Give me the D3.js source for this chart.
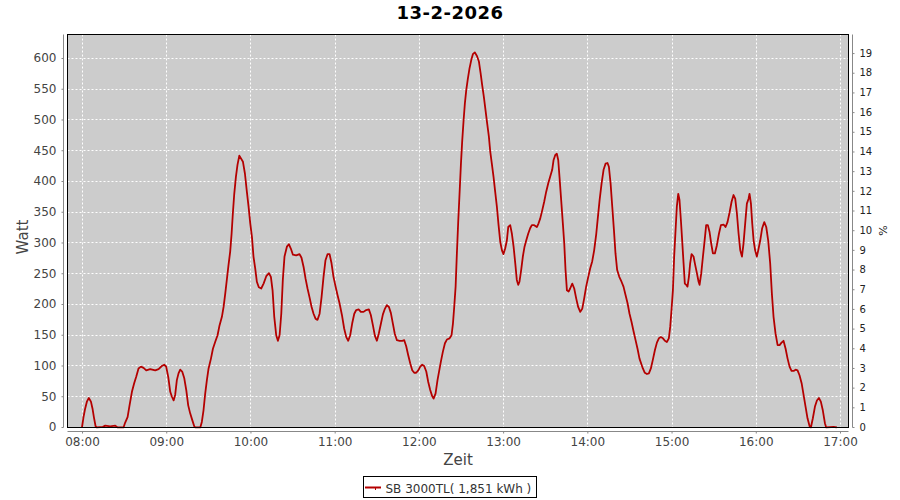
<!DOCTYPE html>
<html><head><meta charset="utf-8">
<script src="https://cdn.jsdelivr.net/npm/d3@7"></script>
<style>body{margin:0;background:#fff}svg{display:block}text{font-family:"DejaVu Sans",sans-serif}</style>
</head><body><svg id="c" width="900" height="500"></svg>
<script>
const chartTitle = "13-2-2026";
const seriesName = "SB 3000TL( 1,851 kWh )";
const xTitle = "Zeit", yTitle = "Watt", y2Title = "%";
// minutes since midnight
const minutes = [
479.6,480.7,481.9,483.1,484.5,486.0,487.1,488.1,489.3,490.2,494.5,496.2,499.7,503.3,505.0,509.2,510.4,512.1,513.5,515.2,
516.8,518.3,519.9,521.6,523.5,525.4,528.2,531.8,534.2,536.5,538.2,539.6,541.1,542.5,543.7,544.9,546.0,547.2,548.4,549.6,
551.0,552.5,553.9,555.3,556.7,558.2,559.6,560.3,563.9,565.0,566.2,567.4,568.6,569.8,571.5,572.9,574.5,576.2,577.6,579.3,
580.5,581.7,582.9,584.0,585.2,586.2,587.1,588.1,589.3,590.4,591.7,
594.3,595.7,597.1,598.3,599.5,600.7,601.8,603.0,604.2,605.6,607.3,609.0,610.9,612.8,614.2,615.4,616.6,618.0,619.2,620.4,
621.6,622.7,623.9,625.6,627.0,628.4,629.9,632.2,634.6,636.0,637.5,638.9,640.3,641.7,643.2,644.6,646.0,647.4,648.9,650.3,
651.7,653.1,654.6,656.0,657.4,658.8,660.3,661.7,663.1,664.8,666.4,667.9,669.3,670.7,672.1,673.6,675.0,676.7,678.3,680.2,
682.1,684.0,685.4,686.9,688.3,689.7,691.1,692.6,694.0,695.4,696.8,698.3,699.7,701.1,702.5,704.0,705.9,707.8,709.2,710.6,
712.0,713.5,714.9,716.3,717.7,719.2,720.6,722.0,723.4,724.9,726.3,727.7,729.1,730.1,731.5,732.9,
735.3,736.7,738.2,739.6,741.5,742.9,743.9,744.8,745.8,746.7,747.7,748.6,749.6,750.5,751.5,752.4,753.4,754.5,755.7,756.9,
758.1,759.5,761.0,762.4,763.6,764.7,765.9,767.1,768.3,769.5,770.5,771.6,772.8,774.0,775.2,776.4,777.6,778.8,779.9,781.1,
782.3,783.3,784.7,785.9,787.1,788.3,789.4,790.4,791.3,792.5,793.7,794.9,796.1,797.5,798.9,800.1,801.8,803.7,804.9,806.1,
807.5,808.9,810.3,811.8,813.2,814.6,815.6,816.8,817.9,818.9,819.8,821.0,822.2,823.2,824.1,825.1,826.3,827.4,828.9,830.3,
831.7,833.1,834.6,836.0,837.4,838.8,840.3,841.7,843.1,844.5,846.0,847.2,848.4,849.8,851.2,852.6,854.0,855.0,856.2,857.4,
858.6,859.7,860.9,862.4,864.0,865.4,866.9,868.3,869.7,871.1,872.6,874.0,875.4,876.8,
879.2,880.6,882.1,883.5,884.9,886.3,887.8,889.2,890.6,892.0,893.5,894.9,896.3,897.7,898.7,899.6,900.6,901.5,902.5,903.4,
904.4,905.3,906.3,907.2,908.2,909.1,910.1,911.0,912.0,912.9,913.9,915.3,916.5,917.7,918.9,919.6,920.8,922.0,923.2,924.3,
925.5,926.7,927.9,929.1,930.5,931.9,933.4,934.8,936.7,938.1,939.5,941.0,942.4,943.8,945.0,946.2,947.4,948.6,949.8,950.9,
952.1,953.3,954.5,955.2,956.2,957.1,958.1,959.2,960.4,961.4,962.8,964.2,965.7,967.1,968.5,969.9,971.1,972.3,973.7,975.2,
976.6,978.0,979.4,980.9,982.3,983.7,985.1,986.6,988.0,989.4,990.8,992.3,993.7,995.1,996.5,998.0,998.9,1000.3,1001.8,1003.2,
1004.6,1006.0,1007.4,1008.9,1009.8,1015.1,1017.4
];
const watts = [
0,17,31,42,48,42,31,17,2,0,1,3,2,3,0,0,8,17,36,58,
72,83,96,99,97,93,95,93,95,100,102,99,82,58,50,44,53,77,88,94,
91,80,61,36,23,12,2,0,0,9,28,55,77,96,112,128,139,150,166,180,
196,218,242,264,286,315,348,380,408,427,442,
432,413,383,359,332,310,278,259,237,228,226,234,246,251,245,223,180,150,141,150,
185,240,278,294,298,291,281,280,282,276,261,242,226,212,196,185,177,175,185,212,
245,272,282,282,267,245,229,215,202,183,161,147,141,150,169,185,191,192,188,188,
191,192,183,166,149,141,153,169,184,193,199,196,186,169,152,142,141,141,142,132,
118,104,93,89,89,93,99,102,100,91,74,61,51,47,55,77,
107,123,137,143,145,150,169,196,229,283,337,380,429,466,500,527,549,567,584,597,
607,610,604,595,576,557,538,516,494,473,448,429,408,383,359,329,302,288,282,291,
304,326,329,315,294,267,240,232,237,256,278,294,304,315,324,329,329,326,332,340,
353,367,383,397,408,419,435,443,445,435,408,370,332,299,256,223,221,226,234,226,
210,196,188,193,210,229,245,259,270,288,315,343,370,397,419,429,430,424,397,359,
321,283,256,245,237,229,215,202,185,172,156,142,128,112,
96,89,87,88,96,110,126,138,145,147,145,141,139,145,164,191,223,278,321,359,
380,370,337,304,267,234,232,229,245,267,282,278,264,251,237,232,251,278,304,329,
329,318,299,283,283,296,315,329,330,326,334,350,367,378,372,348,315,288,278,299,
332,364,372,380,364,332,304,288,278,288,304,324,334,326,304,267,218,180,153,134,
134,138,141,128,112,99,92,92,94,93,85,72,53,34,15,2,0,15,34,44,
48,42,28,7,0,1,0
];
const hourTicks = ["08:00","09:00","10:00","11:00","12:00","13:00","14:00","15:00","16:00","17:00"];
const wattTicks = [0,50,100,150,200,250,300,350,400,450,500,550,600];
const pctTicks = [0,1,2,3,4,5,6,7,8,9,10,11,12,13,14,15,16,17,18,19];
const wattsPerPercent = 32;

const svg = d3.select("#c");
const L = 67.5, R = 848.5, T = 34.5, B = 427.5;
const day = new Date(2026, 1, 13);
const toDate = m => new Date(day.getTime() + m * 60000);
const parseHM = s => { const [h, mm] = s.split(":").map(Number); return toDate(h * 60 + mm); };
const data = minutes.map((m, i) => ({ t: toDate(m), w: watts[i] }));

const x = d3.scaleTime().domain([toDate(469.3), toDate(1025.7)]).range([L, R]);
const y = d3.scaleLinear().domain([0, 639]).range([B, T]);
const y2 = d3.scaleLinear().domain([0, 639 / wattsPerPercent]).range([B, T]);
const px = v => Math.floor(v) + 0.5;

svg.append("rect").attr("width", 900).attr("height", 500).attr("fill", "#fff");
svg.append("rect").attr("x", L).attr("y", T).attr("width", R - L).attr("height", B - T).attr("fill", "#cccccc");

// grid
const grid = svg.append("g").attr("stroke", "#fff").attr("stroke-width", 1).attr("stroke-dasharray", "2,2");
grid.selectAll(".h").data(wattTicks.filter(v => v > 0)).join("line")
  .attr("x1", L).attr("x2", R).attr("y1", d => px(y(d))).attr("y2", d => px(y(d)));
grid.selectAll(".v").data(hourTicks).join("line")
  .attr("y1", T).attr("y2", B).attr("x1", d => px(x(parseHM(d)))).attr("x2", d => px(x(parseHM(d))));

// clip
svg.append("clipPath").attr("id", "clip").append("rect").attr("x", L).attr("y", T).attr("width", R - L).attr("height", B - T + 1);

const line = d3.line().x(d => x(d.t)).y(d => y(d.w));
svg.append("path").datum(data).attr("clip-path", "url(#clip)")
  .attr("fill", "none").attr("stroke", "#b40000").attr("stroke-width", 1.8)
  .attr("stroke-linejoin", "round").attr("d", line);

svg.append("rect").attr("x", L).attr("y", T).attr("width", R - L).attr("height", B - T)
  .attr("fill", "none").attr("stroke", "#000").attr("stroke-width", 1);

function styleAxis(g, color, size) {
  g.selectAll(".domain").attr("stroke", "#888");
  g.selectAll(".tick line").attr("stroke", "#888");
  g.selectAll(".tick text").attr("fill", color).style("font-size", size + "px").style("font-family", "DejaVu Sans");
}

const axL = svg.append("g").attr("transform", "translate(63.5,0)")
  .call(d3.axisLeft(y).tickValues(wattTicks).tickSize(2).tickSizeOuter(0).tickPadding(5).offset(0));
styleAxis(axL, "#444", 12);

const axR = svg.append("g").attr("transform", "translate(852.5,0)")
  .call(d3.axisRight(y2).tickValues(pctTicks).tickSize(2).tickSizeOuter(0).tickPadding(5).offset(0));
styleAxis(axR, "#222", 10);

const axB = svg.append("g").attr("transform", "translate(0,431.5)")
  .call(d3.axisBottom(x).tickValues(hourTicks.map(parseHM)).tickFormat(d3.timeFormat("%H:%M"))
    .tickSize(2).tickSizeOuter(0).tickPadding(3.5).offset(0));
styleAxis(axB, "#444", 12);

// titles
svg.append("text").attr("x", 450).attr("y", 18.5).attr("text-anchor", "middle")
  .style("font-size", "18px").style("font-weight", "bold").style("letter-spacing", "0.5px").attr("fill", "#000").text(chartTitle);
svg.append("text").attr("x", (L + R) / 2).attr("y", 465).attr("text-anchor", "middle")
  .style("font-size", "15px").attr("fill", "#444").text(xTitle);
svg.append("text").attr("transform", "translate(27.5,237) rotate(-90)").attr("text-anchor", "middle")
  .style("font-size", "15px").attr("fill", "#444").text(yTitle);
svg.append("text").attr("transform", "translate(887,230.5) rotate(-90)").attr("text-anchor", "middle")
  .style("font-size", "11px").attr("fill", "#222").text(y2Title);

// legend
const lg = svg.append("g");
lg.append("rect").attr("x", 363.5).attr("y", 476.5).attr("width", 173).attr("height", 21)
  .attr("fill", "#fff").attr("stroke", "#000");
lg.append("line").attr("x1", 365).attr("x2", 381).attr("y1", 487.5).attr("y2", 487.5)
  .attr("stroke", "#b40000").attr("stroke-width", 2);
lg.append("rect").attr("x", 375).attr("y", 488).attr("width", 1).attr("height", 2).attr("fill", "#b40000");
lg.append("text").attr("x", 385.5).attr("y", 492.5).style("font-size", "12px").attr("fill", "#333").text(seriesName);
</script></body></html>
